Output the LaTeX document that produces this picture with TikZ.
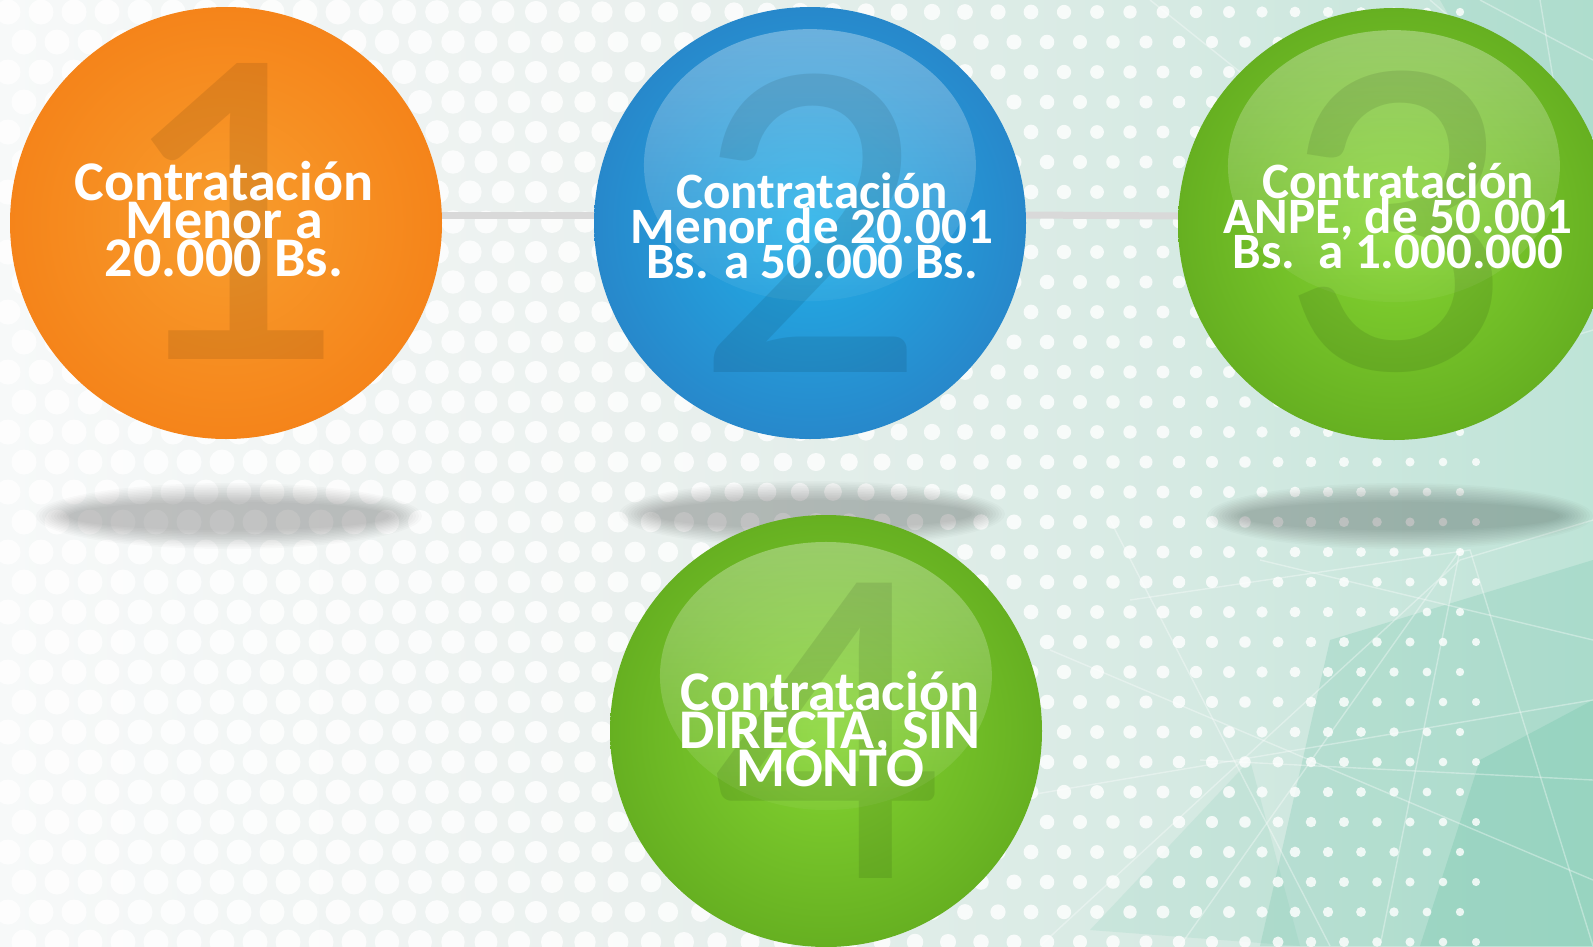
\documentclass[tikz,border=0pt]{standalone}
\usepackage{fontspec}
\setmainfont{Carlito}
\usetikzlibrary{fadings}
\setlength{\lineskiplimit}{-100pt}

\definecolor{orangeIn}{HTML}{F89D2D}
\definecolor{orangeOut}{HTML}{F5841A}
\definecolor{blueIn}{HTML}{22B0E8}
\definecolor{blueOut}{HTML}{2788CB}
\definecolor{greenIn}{HTML}{86D632}
\definecolor{greenOut}{HTML}{66B021}
\definecolor{bgA}{HTML}{F7F9F9}
\definecolor{bgB}{HTML}{EAF0EE}
\definecolor{bgC}{HTML}{D6EAE3}
\definecolor{bgD}{HTML}{BCE3D6}
\definecolor{bgE}{HTML}{9AD4C1}
\definecolor{tealdeep}{HTML}{6FC4A9}
\definecolor{linkgray}{HTML}{D9D9D9}

\pgfdeclarehorizontalshading{bgshade}{100bp}{color(0bp)=(bgA); color(25bp)=(bgA); color(45bp)=(bgB); color(62bp)=(bgC); color(76bp)=(bgD); color(100bp)=(bgE)}
\tikzfading[name=glossfade, top color=transparent!0, bottom color=transparent!85]

\begin{document}
\begin{tikzpicture}[x=1pt, y=-1pt, inner sep=0pt]
		\tikzstyle{disc}=[circle, minimum size=432pt, inner sep=0pt]
		\tikzstyle{bignum}=[text=black, text opacity=0.09, font=\fontsize{460}{460}\selectfont]
		\tikzstyle{caption}=[align=center, text=white, font=\bfseries\fontsize{56}{38}\selectfont]
		\tikzstyle{smallcaption}=[align=center, text=white, font=\bfseries\fontsize{51}{35}\selectfont]
		\tikzstyle{gloss}=[white, opacity=0.32, path fading=glossfade]
		\tikzstyle{link}=[linkgray, line width=7pt]
		\tikzstyle{web}=[white, opacity=0.35, line width=1.4pt]

			\useasboundingbox (0,0) rectangle (1593,946);
			\clip (0,0) rectangle (1593,946);
			\shade[shading=bgshade] (0,0) rectangle (1593,946);

			% teal patches and web lines, right side
			\fill[tealdeep, opacity=0.25] (1330,640) -- (1593,560) -- (1593,946) -- (1260,946) -- cycle;
			\fill[tealdeep, opacity=0.3] (1480,760) -- (1593,700) -- (1593,946) -- (1420,946) -- cycle;
			\fill[tealdeep, opacity=0.2] (1440,0) -- (1593,0) -- (1593,260) -- (1520,140) -- cycle;
			\fill[tealdeep, opacity=0.15] (1090,930) -- (1250,760) -- (1300,946) -- cycle;
			\draw[web] (1040,946) -- (1460,560) -- (1593,520);
			\draw[web] (1130,600) -- (1470,550) -- (1593,946);
			\draw[web] (1180,946) -- (1460,550) -- (1380,946);
			\draw[web] (1050,650) -- (1593,880);
			\draw[web] (1110,520) -- (1330,946);
			\draw[web] (1200,760) -- (1593,780);
			\draw[web] (1260,560) -- (1593,640);
			\draw[web] (1000,800) -- (1593,700);
			\draw[web] (1430,0) -- (1593,140);
			\draw[web] (1480,0) -- (1593,60);
			\draw[web] (1540,0) -- (1560,120) -- (1593,250);
			\draw[web] (1150,0) -- (1250,80) -- (1420,20);
			\draw[web] (1300,420) -- (1593,330);

			% dotted backdrop
			\foreach \i in {0,...,44} {
				\foreach \j in {0,...,31} {
					\pgfmathsetmacro{\dx}{8+33*\i+16*mod(\j,2)}
					\pgfmathsetmacro{\dr}{max(2.5,12.5-0.0075*max(0,\dx-350))}
					\pgfmathsetmacro{\op}{\dx<1480 ? 0.8 : 0}
					\fill[white, opacity=\op] (\dx,{12+30*\j}) circle (\dr);
				}
			}

			% shadows on the floor
			\foreach \k in {0,...,11} {
				\fill[black, opacity=0.02] (229,516) ellipse ({193-3*\k} and {33-1.7*\k});
				\fill[black, opacity=0.02] (812,514) ellipse ({193-3*\k} and {33-1.7*\k});
				\fill[black, opacity=0.02] (1400,516) ellipse ({193-3*\k} and {33-1.7*\k});
			}

			\node[disc, inner color=orangeIn, outer color=orangeOut] (c1) at (226,223) {};
			\node[disc, inner color=blueIn, outer color=blueOut] (c2) at (810,223) {};
			\node[disc, inner color=greenIn, outer color=greenOut] (c3) at (1394,224) {};
			\node[disc, inner color=greenIn, outer color=greenOut] (c4) at (826,731) {};

			\draw[link] ([yshift=8pt]c1.east) -- ([yshift=8pt]c2.west);
			\draw[link] ([yshift=8pt]c2.east) -- ([yshift=8pt]c3.west);

			\fill[gloss] (810,165) ellipse (166 and 136);
			\fill[gloss] (1394,166) ellipse (166 and 136);
			\fill[gloss] (826,676) ellipse (166 and 134);

			\node[bignum] (n1) at ([xshift=2pt, yshift=12pt]c1.center) {1};
			\node[bignum] (n2) at (c2.center) {2};
			\node[bignum] (n3) at ([yshift=2pt]c3.center) {3};
			\node[bignum] (n4) at (c4.center) {4};

			\node[caption] (t1) at (224,219) {Contratación\\Menor a\\20.000 Bs.};
			\node[smallcaption] (t2) at (812,226) {Contratación\\Menor de 20.001\\Bs. a 50.000 Bs.};
			\node[smallcaption] (t3) at (1398,216) {Contratación\\ANPE, de 50.001\\Bs.\ \ a 1.000.000};
			\node[caption] (t4) at (830,729) {Contratación\\DIRECTA, SIN\\MONTO};
		\end{tikzpicture}
\end{document}
